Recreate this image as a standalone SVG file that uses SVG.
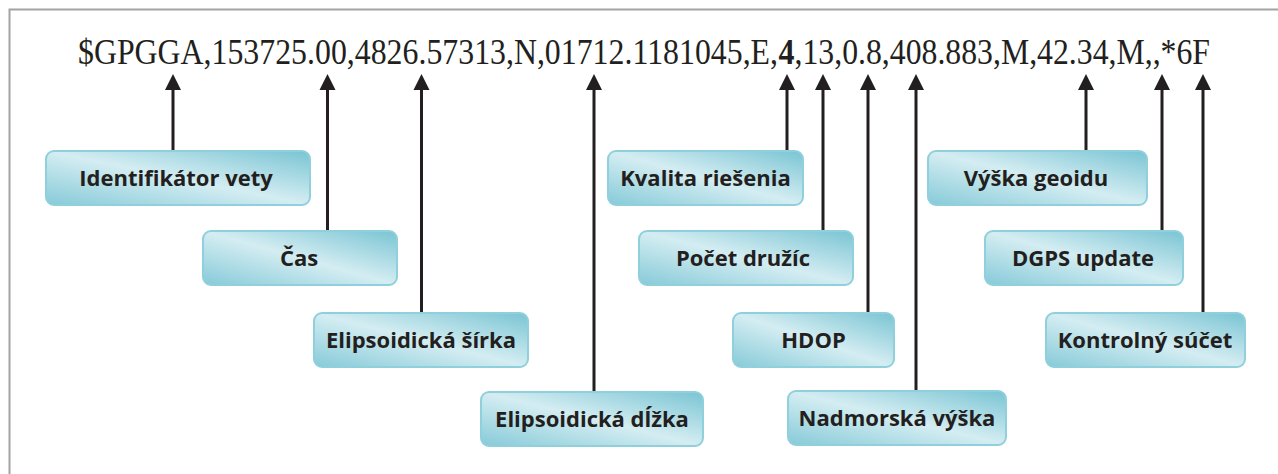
<svg xmlns="http://www.w3.org/2000/svg" width="1278" height="474" viewBox="0 0 1278 474">
<style>
.frame{fill:none;stroke:#a3a3a3;stroke-width:2}
.hdr{font-family:"Liberation Serif","Times New Roman",serif;font-size:36px;fill:#231f20}
.box{fill:url(#g);stroke:#8fd0dc;stroke-width:2}
.lbl{font-family:"Open Sans","Noto Sans",sans-serif;font-weight:bold;font-size:22px;fill:#231f20;text-anchor:middle}
.con{stroke:#231f20;stroke-width:3;fill:none}
.ah{fill:#231f20}
</style>
<defs>
<linearGradient id="g" x1="1" y1="0" x2="0" y2="1">
<stop offset="0" stop-color="#79c4d3"/>
<stop offset="0.5" stop-color="#d4edf2"/>
<stop offset="1" stop-color="#86cad8"/>
</linearGradient>
</defs>
<rect width="1278" height="474" fill="#fff"/>
<path class="frame" d="M9.5,480 V9.5 H1290"/>
<text class="hdr" x="78" y="64" textLength="700" lengthAdjust="spacingAndGlyphs">$GPGGA,153725.00,4826.57313,N,01712.1181045,E,</text>
<text class="hdr" x="778.5" y="64" font-weight="bold" textLength="16" lengthAdjust="spacingAndGlyphs">4</text>
<text class="hdr" x="794.5" y="64" textLength="415.5" lengthAdjust="spacingAndGlyphs">,13,0.8,408.883,M,42.34,M,,*6F</text>
<g id="connectors">
<path class="con" d="M173,151 V86 M327.5,231 V86 M421.5,313 V86 M594,392 V86 M787,151 V86 M823,231 V86 M868,313 V86 M916,391 V86 M1086,151 V86 M1162,231 V86 M1203,313 V86"/>
<path class="ah" d="M165,90 L173,74 L181,90 Z"/>
<path class="ah" d="M319.5,90 L327.5,74 L335.5,90 Z"/>
<path class="ah" d="M413.5,90 L421.5,74 L429.5,90 Z"/>
<path class="ah" d="M586,90 L594,74 L602,90 Z"/>
<path class="ah" d="M779,90 L787,74 L795,90 Z"/>
<path class="ah" d="M815,90 L823,74 L831,90 Z"/>
<path class="ah" d="M860,90 L868,74 L876,90 Z"/>
<path class="ah" d="M908,90 L916,74 L924,90 Z"/>
<path class="ah" d="M1078,90 L1086,74 L1094,90 Z"/>
<path class="ah" d="M1154,90 L1162,74 L1170,90 Z"/>
<path class="ah" d="M1195,90 L1203,74 L1211,90 Z"/>
</g>
<g id="n1"><rect class="box" x="46" y="151" width="264" height="54" rx="8"/><text class="lbl" x="176" y="186">Identifikátor vety</text></g>
<g id="n2"><rect class="box" x="203" y="231" width="194" height="54" rx="8"/><text class="lbl" x="299" y="266">Čas</text></g>
<g id="n3"><rect class="box" x="314" y="313" width="214" height="54" rx="8"/><text class="lbl" x="421" y="348">Elipsoidická šírka</text></g>
<g id="n4"><rect class="box" x="481" y="392" width="222" height="54" rx="8"/><text class="lbl" x="592" y="427">Elipsoidická dĺžka</text></g>
<g id="n5"><rect class="box" x="608" y="151" width="195" height="54" rx="8"/><text class="lbl" x="705.5" y="186">Kvalita riešenia</text></g>
<g id="n6"><rect class="box" x="639" y="231" width="214" height="54" rx="8"/><text class="lbl" x="743" y="266">Počet družíc</text></g>
<g id="n7"><rect class="box" x="733" y="313" width="161" height="54" rx="8"/><text class="lbl" x="813.5" y="348">HDOP</text></g>
<g id="n8"><rect class="box" x="788" y="391" width="218" height="54" rx="8"/><text class="lbl" x="897" y="426">Nadmorská výška</text></g>
<g id="n9"><rect class="box" x="928" y="151" width="219" height="54" rx="8"/><text class="lbl" x="1036" y="186">Výška geoidu</text></g>
<g id="n10"><rect class="box" x="985" y="231" width="198" height="54" rx="8"/><text class="lbl" x="1083" y="266">DGPS update</text></g>
<g id="n11"><rect class="box" x="1046" y="313" width="199" height="54" rx="8"/><text class="lbl" x="1145" y="348">Kontrolný súčet</text></g>
</svg>
